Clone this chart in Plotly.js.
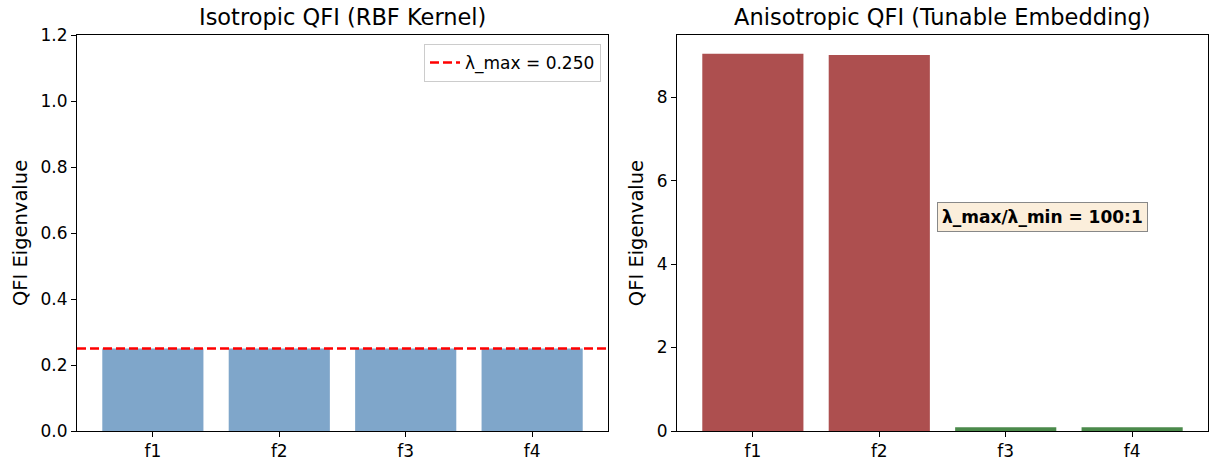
<!DOCTYPE html>
<html>
<head>
<meta charset="utf-8">
<script src="https://cdn.plot.ly/plotly-3.0.1.min.js"></script>
<style>html,body{margin:0;padding:0;background:#fff;}#chart{width:1209px;height:462px;}</style>
</head>
<body>
<div id="chart"></div>
<script>
// Data
const features = ["f1", "f2", "f3", "f4"];
const isoValues = [0.25, 0.25, 0.25, 0.25];
const anisoValues = [9.04, 9.01, 0.09, 0.09];
const anisoColors = ["#ad4f4f", "#ad4f4f", "#4b8a4b", "#4b8a4b"];
const lambdaMax = 0.25;
const legendLabel = "λ_max = 0.250";
const ratioLabel = "λ_max/λ_min = 100:1";
const titles = ["Isotropic QFI (RBF Kernel)", "Anisotropic QFI (Tunable Embedding)"];
const yLabel = "QFI Eigenvalue";

const W = 1209, H = 462;
const font = "DejaVu Sans, sans-serif";
const px = v => v / W;
const py = v => 1 - v / H;

const traces = [
  {type: "bar", x: features, y: isoValues, xaxis: "x", yaxis: "y",
   marker: {color: "#7fa6ca"}, width: 0.8, showlegend: false, hoverinfo: "x+y"},
  {type: "bar", x: features, y: anisoValues, xaxis: "x2", yaxis: "y2",
   marker: {color: anisoColors}, width: 0.8, showlegend: false, hoverinfo: "x+y"}
];

const axisCommon = {
  showline: true, mirror: true, linecolor: "#000", linewidth: 1,
  ticks: "outside", ticklen: 5, tickwidth: 1, tickcolor: "#000",
  showgrid: false, zeroline: false,
  tickfont: {family: font, size: 17, color: "#000"}
};

const layout = {
  width: W, height: H,
  margin: {l: 0, r: 0, t: 0, b: 0},
  paper_bgcolor: "#fff", plot_bgcolor: "#fff",
  font: {family: font, color: "#000"},
  bargap: 0.2,
  xaxis: Object.assign({}, axisCommon, {domain: [px(77), px(608)], anchor: "y",
    type: "category", range: [-0.6, 3.6]}),
  yaxis: Object.assign({}, axisCommon, {domain: [py(431), py(35)], anchor: "x",
    range: [0, 1.2], dtick: 0.2, tickformat: ".1f",
    title: {text: yLabel, font: {family: font, size: 19.5, color: "#000"}, standoff: 7}}),
  xaxis2: Object.assign({}, axisCommon, {domain: [px(677), px(1208)], anchor: "y2",
    type: "category", range: [-0.6, 3.6]}),
  yaxis2: Object.assign({}, axisCommon, {domain: [py(431), py(35)], anchor: "x2",
    range: [0, 9.49], dtick: 2,
    title: {text: yLabel, font: {family: font, size: 19.5, color: "#000"}, standoff: 7}}),
  shapes: [
    {type: "line", xref: "x domain", yref: "y", x0: 0, x1: 1, y0: lambdaMax, y1: lambdaMax,
     line: {color: "#ff0000", width: 2.4, dash: "9px,4px"},
     showlegend: true, name: legendLabel}
  ],
  showlegend: true,
  legend: {x: px(601), xanchor: "right", y: py(44), yanchor: "top",
    bgcolor: "rgba(255,255,255,0.8)", bordercolor: "#cccccc", borderwidth: 1,
    font: {family: font, size: 17, color: "#000"}, tracegroupgap: 0},
  annotations: [
    {xref: "paper", yref: "paper", x: px(342.5), y: py(17), xanchor: "center", yanchor: "middle",
     text: titles[0], showarrow: false, font: {family: font, size: 22.5, color: "#000"}},
    {xref: "paper", yref: "paper", x: px(942.5), y: py(17), xanchor: "center", yanchor: "middle",
     text: titles[1], showarrow: false, font: {family: font, size: 22.5, color: "#000"}},
    {xref: "paper", yref: "paper", x: px(937), y: py(217), xanchor: "left", yanchor: "middle",
     text: "<b>" + ratioLabel + "</b>", showarrow: false,
     font: {family: font, size: 17, color: "#000"},
     bgcolor: "#fbeedb", bordercolor: "#888888", borderwidth: 1, borderpad: 4}
  ]
};

Plotly.newPlot("chart", traces, layout, {displayModeBar: false, staticPlot: true});
</script>
</body>
</html>
